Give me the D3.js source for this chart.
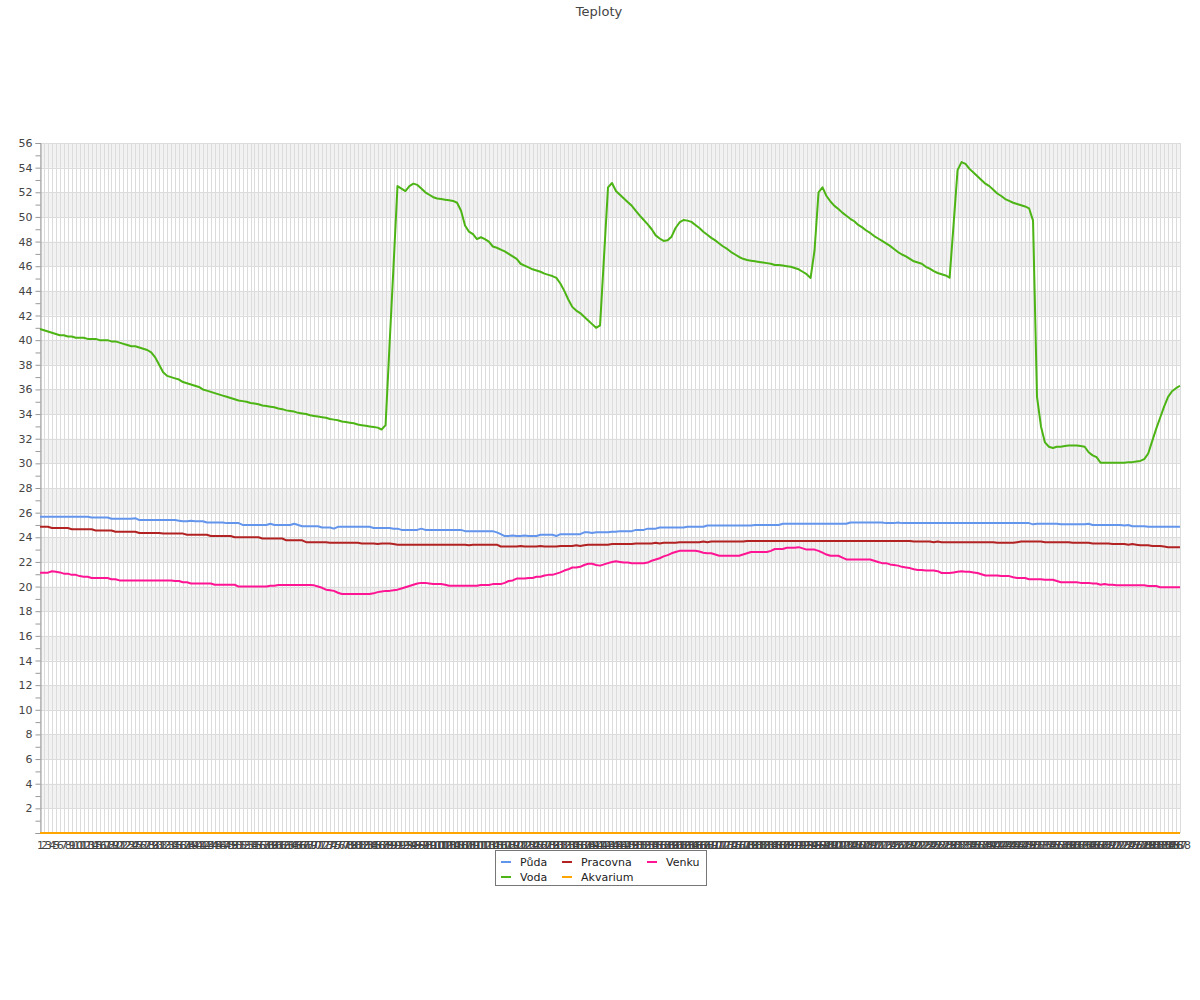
<!DOCTYPE html>
<html><head><meta charset="utf-8">
<script src="https://cdn.jsdelivr.net/npm/d3@7"></script>
<style>body{margin:0;background:#fff}svg{display:block;font-family:"DejaVu Sans",sans-serif}</style>
</head><body><svg id="c" width="1200" height="1000"></svg>
<script>
const title = "Teploty";
const categories = d3.range(1, 289).map(String);
const yTickValues = d3.range(0, 57);
const yLabelValues = d3.range(2, 57, 2);
const seriesNames = ["Půda", "Pracovna", "Venku", "Voda", "Akvarium"];
const seriesColors = ["#6495ED", "#B22222", "#FF1493", "#4CB414", "#FFA500"];

const puda = [
25.67,25.67,25.67,25.67,25.67,25.67,25.67,25.67,25.67,25.67,
25.67,25.67,25.67,25.6,25.6,25.6,25.6,25.6,25.5,25.5,
25.5,25.5,25.5,25.5,25.55,25.4,25.4,25.4,25.4,25.4,
25.4,25.4,25.4,25.4,25.4,25.35,25.3,25.3,25.35,25.3,
25.3,25.3,25.2,25.2,25.2,25.2,25.2,25.15,25.15,25.15,
25.15,25.0,25.0,25.0,25.0,25.0,25.0,25.0,25.1,25.0,
25.0,25.0,25.0,25.0,25.1,25.0,24.9,24.9,24.9,24.9,
24.9,24.8,24.8,24.8,24.7,24.85,24.85,24.85,24.85,24.85,
24.85,24.85,24.85,24.85,24.75,24.75,24.75,24.75,24.75,24.7,
24.7,24.6,24.6,24.6,24.6,24.6,24.7,24.6,24.6,24.6,
24.6,24.6,24.6,24.6,24.6,24.6,24.6,24.5,24.5,24.5,
24.5,24.5,24.5,24.5,24.5,24.4,24.25,24.1,24.1,24.15,
24.1,24.1,24.15,24.1,24.1,24.1,24.2,24.2,24.2,24.2,
24.1,24.25,24.25,24.25,24.25,24.25,24.25,24.4,24.4,24.35,
24.4,24.4,24.4,24.4,24.45,24.45,24.5,24.5,24.5,24.5,
24.6,24.6,24.6,24.7,24.7,24.7,24.8,24.8,24.8,24.8,
24.8,24.8,24.8,24.85,24.85,24.85,24.85,24.85,24.95,24.95,
24.95,24.95,24.95,24.95,24.95,24.95,24.95,24.95,24.95,24.95,
25.0,25.0,25.0,25.0,25.0,25.0,25.0,25.1,25.1,25.1,
25.1,25.1,25.1,25.1,25.1,25.1,25.1,25.1,25.1,25.1,
25.1,25.1,25.1,25.1,25.2,25.2,25.2,25.2,25.2,25.2,
25.2,25.2,25.2,25.15,25.15,25.15,25.2,25.15,25.15,25.15,
25.15,25.15,25.15,25.15,25.15,25.15,25.15,25.15,25.15,25.15,
25.15,25.15,25.15,25.15,25.15,25.15,25.15,25.15,25.15,25.15,
25.15,25.15,25.15,25.15,25.15,25.15,25.15,25.15,25.15,25.15,
25.05,25.1,25.1,25.1,25.1,25.1,25.1,25.05,25.05,25.05,
25.05,25.05,25.05,25.05,25.1,25.0,25.0,25.0,25.0,25.0,
25.0,25.0,25.0,24.95,25.0,24.9,24.9,24.9,24.9,24.85,
24.85,24.85,24.85,24.85,24.85,24.85,24.85,24.85];

const pracovna = [
24.85,24.85,24.85,24.75,24.75,24.75,24.75,24.75,24.65,24.65,
24.65,24.65,24.65,24.65,24.55,24.55,24.55,24.55,24.55,24.45,
24.45,24.45,24.45,24.45,24.45,24.35,24.35,24.35,24.35,24.35,
24.35,24.3,24.3,24.3,24.3,24.3,24.3,24.2,24.2,24.2,
24.2,24.2,24.2,24.1,24.1,24.1,24.1,24.1,24.1,24.0,
24.0,24.0,24.0,24.0,24.0,24.0,23.9,23.9,23.9,23.9,
23.9,23.9,23.75,23.75,23.75,23.75,23.75,23.6,23.6,23.6,
23.6,23.6,23.6,23.55,23.55,23.55,23.55,23.55,23.55,23.55,
23.55,23.5,23.5,23.5,23.5,23.45,23.5,23.5,23.5,23.45,
23.4,23.4,23.4,23.4,23.4,23.4,23.4,23.4,23.4,23.4,
23.4,23.4,23.4,23.4,23.4,23.4,23.4,23.4,23.35,23.4,
23.4,23.4,23.4,23.4,23.4,23.4,23.25,23.25,23.25,23.25,
23.25,23.3,23.25,23.25,23.25,23.25,23.3,23.25,23.25,23.25,
23.25,23.3,23.3,23.3,23.3,23.35,23.3,23.35,23.4,23.4,
23.4,23.4,23.4,23.4,23.45,23.45,23.45,23.45,23.45,23.45,
23.5,23.5,23.5,23.5,23.5,23.55,23.5,23.55,23.55,23.55,
23.55,23.6,23.6,23.6,23.6,23.6,23.6,23.65,23.6,23.65,
23.65,23.65,23.65,23.65,23.65,23.65,23.65,23.65,23.7,23.7,
23.7,23.7,23.7,23.7,23.7,23.7,23.7,23.7,23.7,23.7,
23.7,23.7,23.7,23.7,23.7,23.7,23.7,23.7,23.7,23.7,
23.7,23.7,23.7,23.7,23.7,23.7,23.7,23.7,23.7,23.7,
23.7,23.7,23.7,23.7,23.7,23.7,23.7,23.7,23.7,23.7,
23.65,23.65,23.65,23.65,23.65,23.6,23.65,23.6,23.6,23.6,
23.6,23.6,23.6,23.6,23.6,23.6,23.6,23.6,23.6,23.6,
23.6,23.55,23.55,23.55,23.55,23.55,23.6,23.65,23.65,23.65,
23.65,23.65,23.65,23.6,23.6,23.6,23.6,23.6,23.6,23.6,
23.55,23.55,23.55,23.55,23.55,23.5,23.5,23.5,23.5,23.5,
23.45,23.45,23.45,23.45,23.4,23.45,23.4,23.35,23.35,23.35,
23.3,23.3,23.3,23.25,23.2,23.2,23.2,23.2];

const venku = [
21.13,21.13,21.13,21.24,21.2,21.15,21.05,21.05,20.95,20.95,
20.85,20.8,20.8,20.7,20.7,20.7,20.7,20.7,20.6,20.6,
20.5,20.5,20.5,20.5,20.5,20.5,20.5,20.5,20.5,20.5,
20.5,20.5,20.5,20.5,20.45,20.45,20.35,20.35,20.25,20.25,
20.25,20.25,20.25,20.25,20.15,20.15,20.15,20.15,20.15,20.15,
20.0,20.0,20.0,20.0,20.0,20.0,20.0,20.0,20.07,20.07,
20.13,20.13,20.13,20.13,20.13,20.13,20.13,20.13,20.13,20.1,
20.0,19.9,19.75,19.7,19.65,19.5,19.4,19.4,19.4,19.4,
19.4,19.4,19.4,19.4,19.45,19.55,19.6,19.65,19.65,19.7,
19.75,19.85,19.95,20.05,20.15,20.25,20.3,20.3,20.25,20.2,
20.2,20.2,20.15,20.07,20.07,20.07,20.07,20.07,20.07,20.07,
20.07,20.13,20.13,20.13,20.2,20.2,20.2,20.3,20.45,20.5,
20.65,20.65,20.65,20.7,20.7,20.8,20.8,20.9,20.95,20.95,
21.05,21.15,21.3,21.4,21.55,21.55,21.6,21.75,21.85,21.85,
21.75,21.7,21.8,21.9,22.0,22.05,22.0,21.95,21.95,21.9,
21.9,21.9,21.9,21.95,22.1,22.2,22.3,22.45,22.55,22.7,
22.8,22.9,22.9,22.9,22.9,22.9,22.85,22.75,22.7,22.7,
22.6,22.5,22.5,22.5,22.5,22.5,22.5,22.6,22.7,22.8,
22.8,22.8,22.8,22.8,22.9,23.05,23.05,23.05,23.15,23.15,
23.15,23.2,23.1,23.0,23.0,23.0,22.9,22.75,22.6,22.5,
22.5,22.5,22.35,22.2,22.2,22.2,22.2,22.2,22.2,22.2,
22.1,22.0,21.9,21.9,21.8,21.75,21.7,21.6,21.55,21.5,
21.4,21.35,21.35,21.3,21.3,21.3,21.25,21.1,21.1,21.1,
21.15,21.2,21.25,21.2,21.2,21.15,21.1,21.0,20.9,20.9,
20.9,20.9,20.85,20.85,20.85,20.75,20.7,20.7,20.7,20.6,
20.6,20.6,20.6,20.55,20.55,20.55,20.45,20.35,20.35,20.35,
20.35,20.35,20.3,20.3,20.3,20.25,20.25,20.15,20.2,20.15,
20.15,20.1,20.1,20.1,20.1,20.1,20.1,20.1,20.1,20.05,
20.05,20.05,19.95,19.95,19.95,19.95,19.95,19.95];

const voda = [
40.9,40.8,40.7,40.6,40.5,40.4,40.4,40.3,40.3,40.2,
40.2,40.2,40.1,40.1,40.1,40.0,40.0,40.0,39.9,39.9,
39.8,39.7,39.6,39.5,39.5,39.4,39.3,39.2,39.0,38.6,
38.0,37.4,37.1,37.0,36.9,36.8,36.6,36.5,36.4,36.3,
36.2,36.0,35.9,35.8,35.7,35.6,35.5,35.4,35.3,35.2,
35.1,35.05,35.0,34.9,34.85,34.8,34.7,34.65,34.6,34.55,
34.45,34.4,34.3,34.25,34.2,34.1,34.05,34.0,33.9,33.85,
33.8,33.75,33.7,33.6,33.55,33.5,33.4,33.35,33.3,33.25,
33.15,33.1,33.05,33.0,32.95,32.9,32.75,33.1,39.6,46.0,
52.5,52.3,52.1,52.5,52.7,52.6,52.3,52.0,51.8,51.6,
51.5,51.45,51.4,51.35,51.3,51.15,50.5,49.3,48.8,48.6,
48.2,48.35,48.2,48.0,47.6,47.5,47.35,47.2,47.0,46.8,
46.6,46.2,46.05,45.9,45.75,45.65,45.55,45.4,45.3,45.2,
45.05,44.6,44.0,43.3,42.7,42.4,42.2,41.9,41.6,41.3,
41.0,41.2,46.8,52.4,52.75,52.1,51.8,51.5,51.2,50.9,
50.5,50.1,49.75,49.4,49.0,48.5,48.25,48.05,48.1,48.4,
49.1,49.55,49.75,49.7,49.6,49.35,49.1,48.8,48.55,48.3,
48.1,47.85,47.6,47.4,47.15,46.95,46.75,46.6,46.5,46.45,
46.4,46.35,46.3,46.25,46.2,46.1,46.1,46.05,46.0,45.95,
45.85,45.75,45.55,45.35,45.05,47.3,52.0,52.4,51.7,51.25,
50.9,50.65,50.35,50.1,49.85,49.65,49.35,49.15,48.9,48.7,
48.45,48.25,48.05,47.85,47.65,47.4,47.15,46.95,46.8,46.6,
46.4,46.3,46.2,45.95,45.8,45.6,45.45,45.35,45.25,45.07,
49.4,53.8,54.45,54.3,53.9,53.6,53.3,53.0,52.7,52.5,
52.2,51.9,51.7,51.45,51.3,51.15,51.05,50.95,50.85,50.7,
49.7,35.4,33.0,31.7,31.35,31.25,31.35,31.35,31.4,31.45,
31.45,31.45,31.4,31.35,30.9,30.65,30.5,30.05,30.05,30.05,
30.05,30.05,30.05,30.05,30.1,30.1,30.15,30.2,30.35,30.8,
31.8,32.8,33.7,34.6,35.4,35.85,36.1,36.3];

const akvarium = [
0,0,0,0,0,0,0,0,0,0,0,0,0,0,0,0,0,0,0,0,0,0,0,0,0,0,0,0,0,0,0,0,0,0,0,0,0,0,0,0,
0,0,0,0,0,0,0,0,0,0,0,0,0,0,0,0,0,0,0,0,0,0,0,0,0,0,0,0,0,0,0,0,0,0,0,0,0,0,0,0,
0,0,0,0,0,0,0,0,0,0,0,0,0,0,0,0,0,0,0,0,0,0,0,0,0,0,0,0,0,0,0,0,0,0,0,0,0,0,0,0,
0,0,0,0,0,0,0,0,0,0,0,0,0,0,0,0,0,0,0,0,0,0,0,0,0,0,0,0,0,0,0,0,0,0,0,0,0,0,0,0,
0,0,0,0,0,0,0,0,0,0,0,0,0,0,0,0,0,0,0,0,0,0,0,0,0,0,0,0,0,0,0,0,0,0,0,0,0,0,0,0,
0,0,0,0,0,0,0,0,0,0,0,0,0,0,0,0,0,0,0,0,0,0,0,0,0,0,0,0,0,0,0,0,0,0,0,0,0,0,0,0,
0,0,0,0,0,0,0,0,0,0,0,0,0,0,0,0,0,0,0,0,0,0,0,0,0,0,0,0,0,0,0,0,0,0,0,0,0,0,0,0,
0,0,0,0,0,0,0,0];

const seriesValues = [puda, pracovna, venku, voda, akvarium];

const svg = d3.select("#c");
const L = 40, R = 1180, T = 143, B = 833;
const x = d3.scalePoint().domain(categories).range([L, R]).padding(0);
const y = d3.scaleLinear().domain([0, 56]).range([B, T]);

svg.append("text").attr("x", 599).attr("y", 16).attr("text-anchor", "middle")
  .attr("font-size", 13).attr("fill", "#444").text(title);

// alternating bands
const bandStarts = d3.range(2, 56, 4);
svg.append("g").selectAll("rect").data(bandStarts).join("rect")
  .attr("x", L).attr("width", R - L)
  .attr("y", d => y(d + 2)).attr("height", d => y(d) - y(d + 2))
  .attr("fill", "#f2f2f2");

// vertical grid
svg.append("g").selectAll("line").data(categories).join("line")
  .attr("x1", d => Math.round(x(d)) + 0.5).attr("x2", d => Math.round(x(d)) + 0.5)
  .attr("y1", T).attr("y2", B).attr("stroke", "#dcdcdc").attr("stroke-width", 1);

// horizontal grid
svg.append("g").selectAll("line").data(yLabelValues).join("line")
  .attr("x1", L).attr("x2", R)
  .attr("y1", d => Math.round(y(d)) + 0.5).attr("y2", d => Math.round(y(d)) + 0.5)
  .attr("stroke", "#dcdcdc").attr("stroke-width", 1);

// y axis
const yAxis = d3.axisLeft(y).tickValues(yTickValues).tickSize(5)
  .tickFormat(d => (d % 2 === 0 && d > 0) ? d : "");
const ya = svg.append("g").attr("transform", `translate(${L + 0.5},0)`).call(yAxis);
ya.select(".domain").attr("stroke", "#999");
ya.selectAll(".tick line").attr("stroke", "#999");
ya.selectAll(".tick text").attr("fill", "#444").attr("font-size", 11)
  .attr("font-family", "DejaVu Sans, sans-serif");

// x labels
const xAxis = d3.axisBottom(x).tickSize(0).tickPadding(8);
const xa = svg.append("g").attr("transform", `translate(0,${B})`).call(xAxis);
xa.select(".domain").remove();
xa.selectAll(".tick text").attr("fill", "#444").attr("font-size", 11)
  .attr("font-family", "DejaVu Sans, sans-serif");

// lines
const line = d3.line().x((d, i) => x(categories[i])).y(d => y(d));
svg.append("g").selectAll("path").data(seriesValues).join("path")
  .attr("d", d => line(d)).attr("fill", "none")
  .attr("stroke", (d, i) => seriesColors[i]).attr("stroke-width", 2)
  .attr("stroke-linejoin", "round");

// legend
const lg = svg.append("g");
lg.append("rect").attr("x", 495.5).attr("y", 850.5).attr("width", 211).attr("height", 35)
  .attr("fill", "#fff").attr("stroke", "#777");
const legX = [501, 562, 647];
const legY = [862, 877];
seriesNames.forEach((name, i) => {
  const cx = legX[i % 3], cy = legY[Math.floor(i / 3)];
  lg.append("line").attr("x1", cx).attr("x2", cx + 10).attr("y1", cy).attr("y2", cy)
    .attr("stroke", seriesColors[i]).attr("stroke-width", 2);
  lg.append("text").attr("x", cx + 19).attr("y", cy + 4).attr("font-size", 11)
    .attr("fill", "#222").text(name);
});
</script></body></html>
